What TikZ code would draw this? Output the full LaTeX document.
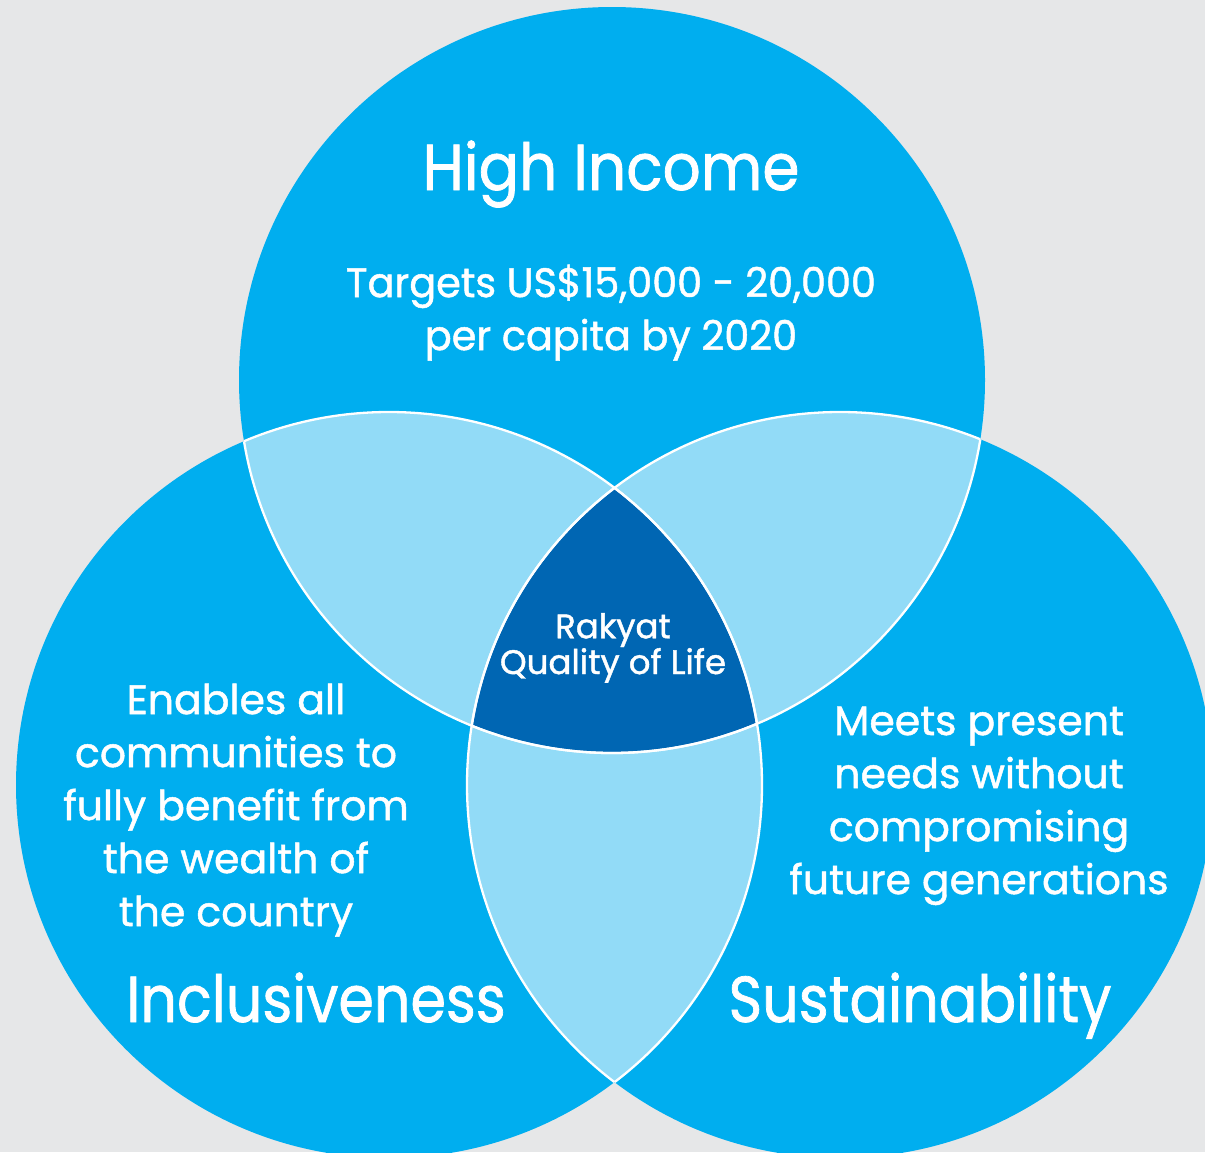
\documentclass[tikz,border=0pt]{standalone}
\usepackage{fontspec}
\setmainfont{Poppins}[FakeBold=1.2]
\definecolor{bgA}{HTML}{E6E7E8}
\definecolor{cyanA}{HTML}{00AEEF}
\definecolor{lightA}{HTML}{92DBF7}
\definecolor{darkA}{HTML}{0066B3}
\tikzset{
  lbl/.style={text=white, inner sep=0pt, align=center},
  bigtitle/.style={lbl, font=\fontsize{65}{65}\selectfont},
  body/.style={lbl, font=\fontsize{41}{53}\selectfont},
  small/.style={lbl, font=\fontsize{34}{31}\selectfont},
  sep/.style={draw=white, line width=2.3pt}
}
\begin{document}
\begin{tikzpicture}[x=1pt,y=-1pt]
\useasboundingbox (0,0) rectangle (1205,1152);
\fill[bgA] (0,0) rectangle (1205,1152);
\clip (0,0) rectangle (1205,1152);
\def\rr{373pt}
\coordinate (T) at (612,380);
\coordinate (L) at (389,785);
\coordinate (R) at (840,785);
% base circles
\fill[cyanA] (T) circle[radius=\rr] (L) circle[radius=\rr] (R) circle[radius=\rr];
% pairwise overlaps
\begin{scope}
  \clip (T) circle[radius=\rr];
  \fill[lightA] (L) circle[radius=\rr] (R) circle[radius=\rr];
\end{scope}
\begin{scope}
  \clip (L) circle[radius=\rr];
  \fill[lightA] (R) circle[radius=\rr];
\end{scope}
% triple overlap
\begin{scope}
  \clip (T) circle[radius=\rr];
  \clip (L) circle[radius=\rr];
  \fill[darkA] (R) circle[radius=\rr];
\end{scope}
% white separating arcs (only inside other circles)
\begin{scope}\clip (L) circle[radius=\rr]; \draw[sep] (T) circle[radius=\rr]; \draw[sep] (R) circle[radius=\rr];\end{scope}
\begin{scope}\clip (T) circle[radius=\rr]; \draw[sep] (L) circle[radius=\rr]; \draw[sep] (R) circle[radius=\rr];\end{scope}
\begin{scope}\clip (R) circle[radius=\rr]; \draw[sep] (T) circle[radius=\rr]; \draw[sep] (L) circle[radius=\rr];\end{scope}
% texts (anchor=base is the baseline of the last line)
\node[bigtitle, anchor=base] (hi) at (611,190) {\scalebox{0.92}[1]{High Income}};
\node[body, anchor=base] (hit) at (611,350) {\scalebox{0.97}[1]{Targets US\$15,000 - 20,000}\\\scalebox{0.97}[1]{per capita by 2020}};
\node[small, anchor=base] (ctr) at (613,674) {Rakyat\\Quality of Life};
\node[body, anchor=base] (inct) at (236,926) {Enables all\\communities to\\fully benefit from\\the wealth of\\the country};
\node[body, anchor=base] (sust) at (979,894) {Meets present\\needs without\\compromising\\future generations};
\node[bigtitle, anchor=base] (inc) at (316,1022) {\scalebox{0.88}[1]{Inclusiveness}};
\node[bigtitle, anchor=base] (sus) at (920,1022) {\scalebox{0.88}[1]{Sustainability}};
\end{tikzpicture}
\end{document}
